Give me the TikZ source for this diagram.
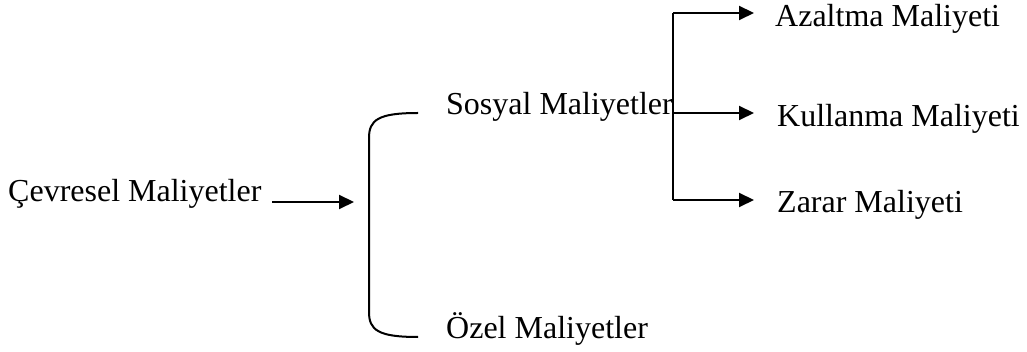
\documentclass[tikz,border=0pt]{standalone}
\usepackage{fontspec}
\setmainfont{Liberation Serif}
\usetikzlibrary{arrows.meta}
\begin{document}
\begin{tikzpicture}[x=1pt,y=-1pt,
  lbl/.style={anchor=base west,inner sep=0pt,font=\fontsize{32}{36}\selectfont},
  conn/.style={line width=2pt},
  arr/.style={conn,-{Triangle[length=15pt,width=14pt]}}]
\useasboundingbox (0,0) rectangle (1027,352);
\node[lbl] (ce) at (8,202) {Çevresel Maliyetler};
\node[lbl] (so) at (446,115) {Sosyal Maliyetler};
\node[lbl] (oz) at (446,338) {Özel Maliyetler};
\node[lbl] (az) at (775,27) {Azaltma Maliyeti};
\node[lbl] (ku) at (777,127) {Kullanma Maliyeti};
\node[lbl] (za) at (777,213) {Zarar Maliyeti};
% main arrow
\coordinate (a0) at (272,202);
\coordinate (a1) at (354,202);
\draw[arr] (a0) -- (a1);
% bracket
\coordinate (bt) at (418,113);
\coordinate (bb) at (418,337);
\draw[conn] (bt) .. controls (378,113) and (369,120) .. (369,138) -- (369,312) .. controls (369,330) and (378,337) .. (bb);
% tree
\coordinate (tt) at (673,13);
\coordinate (tm) at (673,113);
\coordinate (tb) at (673,200);
\draw[conn] (tt) -- (tb);
\draw[arr] (tt) -- (754,13);
\draw[arr] (tm) -- (754,113);
\draw[arr] (tb) -- (754,200);
\end{tikzpicture}
\end{document}
